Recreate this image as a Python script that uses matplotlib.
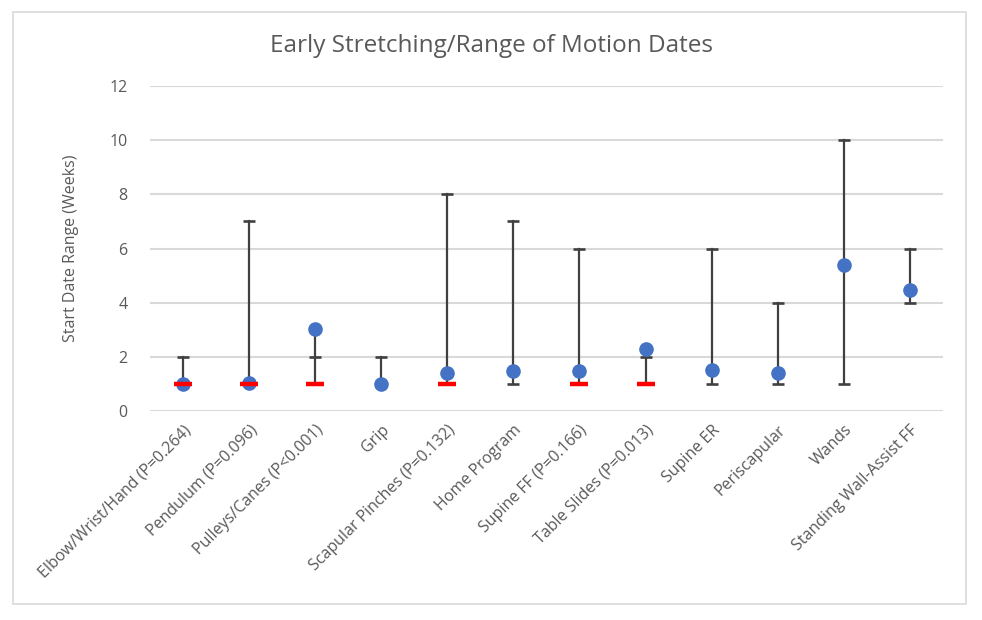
import numpy as np
import matplotlib.pyplot as plt

categories = ["Elbow/Wrist/Hand (P=0.264)", "Pendulum (P=0.096)", "Pulleys/Canes (P<0.001)",
              "Grip", "Scapular Pinches (P=0.132)", "Home Program", "Supine FF (P=0.166)",
              "Table Slides (P=0.013)", "Supine ER", "Periscapular", "Wands",
              "Standing Wall-Assist FF"]
mean_start = [1.0, 1.05, 3.03, 1.0, 1.42, 1.46, 1.46, 2.29, 1.52, 1.42, 5.39, 4.47]
range_min = [1, 1, 1, 1, 1, 1, 1, 1, 1, 1, 1, 4]
range_max = [2, 7, 2, 2, 8, 7, 6, 2, 6, 4, 10, 6]
# red marker at the common start week, only for the exercises with a P value
red_mark = [1, 1, 1, None, 1, None, 1, 1, None, None, None, None]

plt.rcParams['font.family'] = ['Open Sans', 'DejaVu Sans']

fig = plt.figure(figsize=(9.82, 6.2), dpi=100)
ax = fig.add_axes([0.1527, 0.3371, 0.8075, 0.524])

x = np.arange(len(categories))
dark = '#404040'
for i in x:
    lo = range_min[i]
    hi = range_max[i]
    top = max(hi, mean_start[i])
    ax.plot([i, i], [lo, top], color=dark, linewidth=1.6, zorder=2)
    ax.plot([i, i], [lo, hi], linestyle='none', marker='_', markersize=9,
            markeredgewidth=1.9, color=dark, zorder=2)

ax.plot(x, mean_start, linestyle='none', marker='o', markersize=9.5,
        color='#4472C4', zorder=3)

rx = [i for i in x if red_mark[i] is not None]
ry = [red_mark[i] for i in rx]
ax.plot(rx, ry, linestyle='none', marker='_', markersize=12.5,
        markeredgewidth=3.2, color='#FF0000', zorder=4)

ax.set_xlim(-0.5, len(categories) - 0.5)
ax.set_ylim(0, 12)
ax.set_yticks(range(0, 13, 2))
ax.yaxis.grid(True, color='#D9D9D9', linewidth=1.5)
ax.set_axisbelow(True)
for s in ax.spines.values():
    s.set_visible(False)
ax.tick_params(axis='both', length=0, colors='#595959', labelsize=11.5)
ax.tick_params(axis='y', pad=16)
ax.set_xticks(x)
ax.set_xticklabels(categories, rotation=45, ha='right', rotation_mode='anchor')
ax.tick_params(axis='x', pad=8)

ax.set_ylabel("Start Date Range (Weeks)", color='#595959', fontsize=11.5, labelpad=22)
fig.text(0.5, 0.926, "Early Stretching/Range of Motion Dates", ha='center', va='center',
         fontsize=17.5, color='#595959')

border = plt.Rectangle((13 / 982, 16 / 620), 953 / 982, 592 / 620, transform=fig.transFigure,
                       fill=False, edgecolor='#D9D9D9', linewidth=1.2)
fig.patches.append(border)

fig.savefig("out.png", dpi=100)
